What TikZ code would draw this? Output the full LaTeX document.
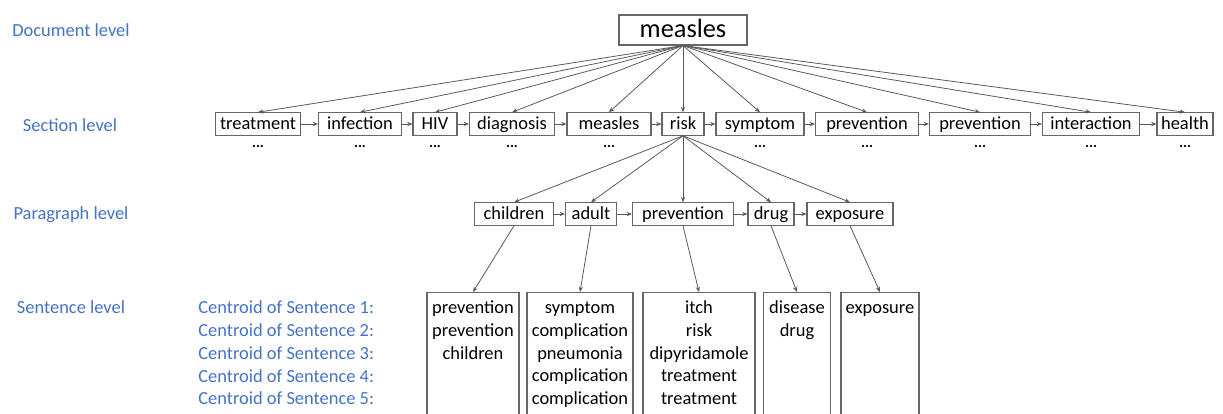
\documentclass[tikz,border=0pt]{standalone}
\usepackage{fontspec}
\setmainfont{Carlito}
\usetikzlibrary{arrows.meta}

\definecolor{levelblue}{HTML}{4472C4}
\tikzset{
  wordbox/.style={draw=black!60, line width=0.6pt, inner xsep=0pt, inner ysep=0pt,
    minimum height=0.45cm, text height=8.4pt, text depth=2.3pt,
    font=\fontsize{10.5}{12.9}\selectfont},
  sentbox/.style={draw=black!60, line width=0.6pt, anchor=north, align=center,
    inner xsep=0.04cm, inner ysep=0.11cm, execute at begin node=\strut,
    font=\fontsize{10.5}{12.9}\selectfont},
  leveltext/.style={text=levelblue, font=\fontsize{10.5}{12.9}\selectfont},
  centroid/.style={text=levelblue, anchor=west, inner xsep=0pt, font=\fontsize{10.5}{12.9}\selectfont},
  dotstext/.style={font=\fontsize{8.5}{10}\selectfont\bfseries},
  link/.style={draw=black!65, line width=0.45pt, -{Stealth[length=3pt,width=2.4pt]}}
}

\begin{document}
\begin{tikzpicture}[x=0.02cm, y=-0.02cm]
    \useasboundingbox (0,0) rectangle (1223,413);
    \clip (0,0) rectangle (1223,413);

    % level names
    \node[leveltext] (docl) at (71, 30) {Document level};
    \node[leveltext] (secl) at (70, 125) {Section level};
    \node[leveltext] (parl) at (71, 215) {Paragraph level};
    \node[leveltext] (senl) at (71, 307) {Sentence level};
    \node[centroid] (c1) at (198, 307) {Centroid of Sentence 1:};
    \node[centroid] (c2) at (198, 330) {Centroid of Sentence 2:};
    \node[centroid] (c3) at (198, 353) {Centroid of Sentence 3:};
    \node[centroid] (c4) at (198, 376) {Centroid of Sentence 4:};
    \node[centroid] (c5) at (198, 398) {Centroid of Sentence 5:};

    % document
    \node[wordbox, minimum width=2.56cm, minimum height=0.6cm, text height=11.4pt, text depth=3.2pt,
      font=\fontsize{15}{18}\selectfont] (doc) at (683, 30) {measles};

    % sections
    \node[wordbox, minimum width=1.70cm] (treatment) at (258, 124) {treatment};
    \node[wordbox, minimum width=1.66cm] (infection) at (360, 124) {infection};
    \node[wordbox, minimum width=0.88cm] (hiv) at (435, 124) {HIV};
    \node[wordbox, minimum width=1.70cm] (diagnosis) at (512, 124) {diagnosis};
    \node[wordbox, minimum width=1.68cm] (measles) at (609, 124) {measles};
    \node[wordbox, minimum width=0.84cm] (risk) at (683, 124) {risk};
    \node[wordbox, minimum width=1.76cm] (symptom) at (760, 124) {symptom};
    \node[wordbox, minimum width=2.06cm] (preventa) at (867, 124) {prevention};
    \node[wordbox, minimum width=2.02cm] (preventb) at (980, 124) {prevention};
    \node[wordbox, minimum width=1.94cm] (interaction) at (1091, 124) {interaction};
    \node[wordbox, minimum width=1.12cm] (health) at (1185, 124) {health};

    \node[dotstext] (dtreatment) at (258, 146) {...};
    \node[dotstext] (dinfection) at (360, 146) {...};
    \node[dotstext] (dhiv) at (435, 146) {...};
    \node[dotstext] (ddiagnosis) at (512, 146) {...};
    \node[dotstext] (dmeasles) at (609, 146) {...};
    \node[dotstext] (dsymptom) at (760, 146) {...};
    \node[dotstext] (dpreventa) at (867, 146) {...};
    \node[dotstext] (dpreventb) at (980, 146) {...};
    \node[dotstext] (dinteraction) at (1091, 146) {...};
    \node[dotstext] (dhealth) at (1185, 146) {...};

    \draw[link] (doc.south) -- (treatment.north);
    \draw[link] (doc.south) -- (infection.north);
    \draw[link] (doc.south) -- (hiv.north);
    \draw[link] (doc.south) -- (diagnosis.north);
    \draw[link] (doc.south) -- (measles.north);
    \draw[link] (doc.south) -- (risk.north);
    \draw[link] (doc.south) -- (symptom.north);
    \draw[link] (doc.south) -- (preventa.north);
    \draw[link] (doc.south) -- (preventb.north);
    \draw[link] (doc.south) -- (interaction.north);
    \draw[link] (doc.south) -- (health.north);

    \draw[link] (treatment) -- (infection);
    \draw[link] (infection) -- (hiv);
    \draw[link] (hiv) -- (diagnosis);
    \draw[link] (diagnosis) -- (measles);
    \draw[link] (measles) -- (risk);
    \draw[link] (risk) -- (symptom);
    \draw[link] (symptom) -- (preventa);
    \draw[link] (preventa) -- (preventb);
    \draw[link] (preventb) -- (interaction);
    \draw[link] (interaction) -- (health);

    % paragraphs
    \node[wordbox, minimum width=1.58cm] (children) at (514, 214) {children};
    \node[wordbox, minimum width=1.02cm] (adult) at (591, 214) {adult};
    \node[wordbox, minimum width=2.02cm] (prevpar) at (683, 214) {prevention};
    \node[wordbox, minimum width=0.92cm] (drug) at (771, 214) {drug};
    \node[wordbox, minimum width=1.72cm] (exposure) at (850, 214) {exposure};

    \draw[link] (risk.south) -- (children.north);
    \draw[link] (risk.south) -- (adult.north);
    \draw[link] (risk.south) -- (prevpar.north);
    \draw[link] (risk.south) -- (drug.north);
    \draw[link] (risk.south) -- (exposure.north);

    \draw[link] (children) -- (adult);
    \draw[link] (adult) -- (prevpar);
    \draw[link] (prevpar) -- (drug);
    \draw[link] (drug) -- (exposure);

    % sentences
    \node[sentbox, text width=1.76cm] (schildren) at (473, 292) {prevention\\prevention\\children\\~\\~\\~};
    \node[sentbox, text width=2.04cm] (sadult) at (580, 292) {symptom\\complication\\pneumonia\\complication\\complication\\~};
    \node[sentbox, text width=2.16cm] (sprev) at (699, 292) {itch\\risk\\dipyridamole\\treatment\\treatment\\~};
    \node[sentbox, text width=1.26cm] (sdrug) at (797, 292) {disease\\drug\\~\\~\\~\\~};
    \node[sentbox, text width=1.48cm] (sexposure) at (880, 292) {exposure\\~\\~\\~\\~\\~};

    \draw[link] (children.south) -- (schildren.north);
    \draw[link] (adult.south) -- (sadult.north);
    \draw[link] (prevpar.south) -- (sprev.north);
    \draw[link] (drug.south) -- (sdrug.north);
    \draw[link] (exposure.south) -- (sexposure.north);
\end{tikzpicture}
\end{document}
